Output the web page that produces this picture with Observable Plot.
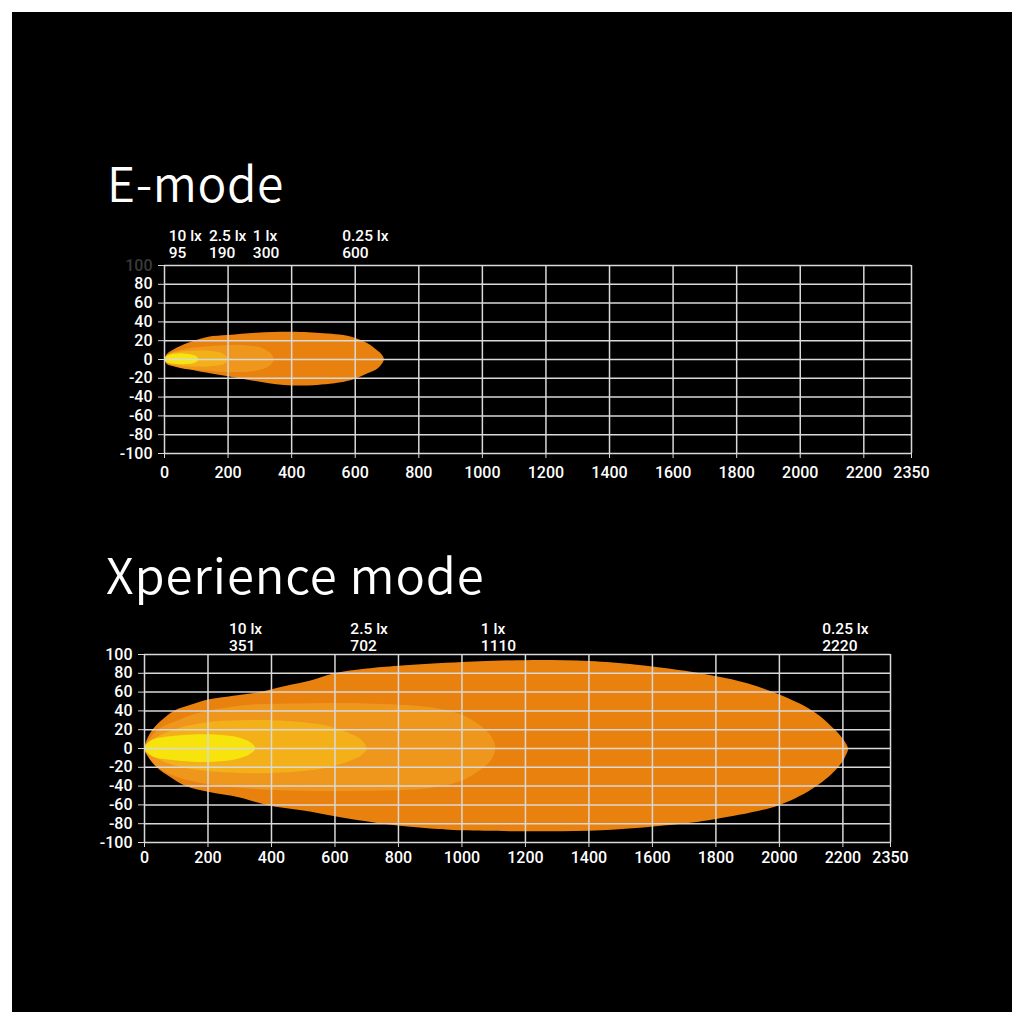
<!DOCTYPE html>
<html><head><meta charset="utf-8">
<script src="https://cdn.jsdelivr.net/npm/d3@7"></script>
<script src="https://cdn.jsdelivr.net/npm/@observablehq/plot@0.6"></script>
<style>
body{margin:0;background:#fff;}
#panel{position:absolute;left:12px;top:12px;width:1000px;height:1000px;background:#000;overflow:hidden;}
.title{position:absolute;color:#fff;font-family:"Noto Sans CJK JP","Noto Sans",sans-serif;font-weight:350;font-size:48px;line-height:1;white-space:nowrap;letter-spacing:0.6px;}
.chart{position:absolute;left:0;}
</style></head><body>
<div id="panel">
<div class="title" style="left:95px;top:145px">E-mode</div>
<div class="title" style="left:94px;top:536px;font-size:49px;letter-spacing:0.9px">Xperience mode</div>
<div class="chart" id="c1" style="top:213px"></div>
<div class="chart" id="c2" style="top:602px"></div>
</div>
<script>
// Axis ticks
const xTicks = [0,200,400,600,800,1000,1200,1400,1600,1800,2000,2200,2350];
const yTicks = [-100,-80,-60,-40,-20,0,20,40,60,80,100];

// Isolux labels
const luxLabels = ["10 lx","2.5 lx","1 lx","0.25 lx"];
const eDist = [95,190,300,600];
const xDist = [351,702,1110,2220];

// E-mode contours [distance, lateral]
const e025Top = [[0,0],[8,6],[25,10],[60,16],[134,24],[200,26],[290,28.5],[400,29.5],[500,28],[550,26.5],[600,23],[640,17],[668,10],[684,5],[690,0]];
const e025Bot = [[0,0],[8,-5],[30,-7],[60,-9],[100,-12],[166,-16],[270,-22],[375,-27],[480,-27],[585,-22],[637,-15],[672,-9],[690,0]];
const e1Top = [[0,0],[15,6],[50,10],[100,13],[180,15],[260,15],[300,13],[325,9],[338,5],[343,0]];
const e1Bot = [[0,0],[15,-5],[50,-9],[100,-11],[180,-13],[260,-13],[300,-11],[325,-8],[338,-4],[343,0]];
const e25Top = [[0,0],[10,5],[40,8],[100,9.5],[150,9],[185,6],[200,0]];
const e25Bot = [[0,0],[10,-4],[40,-6],[100,-7.5],[150,-7],[185,-5],[200,0]];
const e10Top = [[0,0],[8,4],[30,6],[60,6.5],[90,5],[102,3],[107,0]];
const e10Bot = [[0,0],[8,-3],[30,-4.5],[60,-5],[90,-4],[102,-2],[107,0]];

// Xperience mode contours
const x025Top = [[0,0],[8,10],[25,20],[50,29],[92,40],[150,47],[200,52],[280,56],[363,60],[450,67],[520,72],[598,80],[700,85],[800,88],[1000,92],[1200,94],[1400,93],[1550,89],[1750,80],[1880,71],[1980,60],[2105,40],[2175,20],[2200,10],[2216,0]];
const x025Bot = [[0,0],[10,-8],[38,-20],[80,-30],[130,-40],[200,-46],[300,-52],[385,-60],[500,-66],[600,-72],[752,-80],[900,-85],[1000,-87],[1200,-88],[1440,-87],[1690,-80],[1800,-75],[2001,-60],[2117,-40],[2185,-20],[2208,-8],[2216,0]];
const x1Top = [[0,0],[20,12],[50,22],[90,28],[150,36],[250,43],[350,47],[500,48],[700,48],[900,44],[1000,36],[1060,24],[1090,14],[1105,0]];
const x1Bot = [[0,0],[20,-12],[50,-22],[100,-30],[200,-38],[350,-43],[500,-45],[700,-45],[900,-42],[1000,-34],[1060,-22],[1090,-13],[1105,0]];
const x25Top = [[0,0],[20,8],[60,16],[120,23],[200,28],[300,30],[400,30],[500,28],[580,24],[640,17],[680,10],[700,0]];
const x25Bot = [[0,0],[20,-7],[60,-14],[120,-20],[200,-24],[300,-26],[400,-26],[500,-24],[580,-20],[640,-14],[680,-8],[700,0]];
const x10Top = [[0,0],[10,6],[30,10],[80,13],[150,15],[220,15],[280,13],[320,9],[340,5],[349,0]];
const x10Bot = [[0,0],[10,-5],[30,-9],[80,-12],[150,-14],[220,-14],[280,-12],[320,-8],[340,-4],[349,0]];

const colors = ["#e9810f","#ef961c","#f3b019","#f6e40c"]; // 0.25, 1, 2.5, 10 lx

// per-label horizontal nudges (px) as in the reference layout
const eNudge = [-26,-16,-7,-13];
const xNudge = [-27,-17,-16,-27];

function ring(top, bot) {
  const pts = top.map(([x, y]) => ({x, y}));
  for (let i = bot.length - 2; i >= 1; i--) pts.push({x: bot[i][0], y: bot[i][1]});
  return pts;
}

function chart({contours, dist, nudge, marginLeft, marginRight, labelDy, dim100, xPad}) {
  const grid = "#d9d9d9";
  return Plot.plot({
    width: 1000, height: 266,
    marginLeft, marginRight, marginTop: 40, marginBottom: 38,
    x: {domain: [0, 2350]},
    y: {domain: [-100, 100]},
    style: {background: "transparent", color: "#fff", fontFamily: "Roboto, 'Liberation Sans', Arial, sans-serif", fontSize: "16px", fontWeight: 500},
    marks: [
      ...contours.map((c, i) => Plot.line(ring(c[0], c[1]), {x: "x", y: "y", fill: colors[i], stroke: "none", curve: "catmull-rom-closed"})),
      Plot.ruleX(xTicks, {x: d => d, stroke: grid, strokeWidth: 1.5}),
      Plot.ruleY(yTicks, {y: d => d, stroke: grid, strokeWidth: 1.5}),
      Plot.axisX(xTicks, {tickSize: 5, tickPadding: xPad, tickFormat: d => String(d), stroke: grid, fill: "#fff", label: null}),
      Plot.axisY(yTicks, {tickSize: 6, tickPadding: 6, tickFormat: d => (dim100 && d === 100) ? "" : String(d), stroke: grid, fill: "#fff", label: null}),
      dim100 ? Plot.text([100], {y: d => d, frameAnchor: "left", dx: -12, textAnchor: "end", fill: "#3a3a3a"}) : null,
      ...dist.map((v, i) => Plot.text([v], {x: d => d, text: d => luxLabels[i] + "\n" + d, frameAnchor: "top", lineAnchor: "bottom", textAnchor: "start", dx: nudge[i], dy: labelDy, lineHeight: 1.05, fontSize: 15.5, fill: "#fff"}))
    ]
  });
}

document.getElementById("c1").appendChild(chart({
  contours: [[e025Top, e025Bot], [e1Top, e1Bot], [e25Top, e25Bot], [e10Top, e10Bot]],
  dist: eDist, nudge: eNudge, marginLeft: 152, marginRight: 101, labelDy: -8, dim100: true, xPad: 8
}));
document.getElementById("c2").appendChild(chart({
  contours: [[x025Top, x025Bot], [x1Top, x1Bot], [x25Top, x25Bot], [x10Top, x10Bot]],
  dist: xDist, nudge: xNudge, marginLeft: 132, marginRight: 122, labelDy: -4, dim100: false, xPad: 4
}));
</script>
</body></html>
